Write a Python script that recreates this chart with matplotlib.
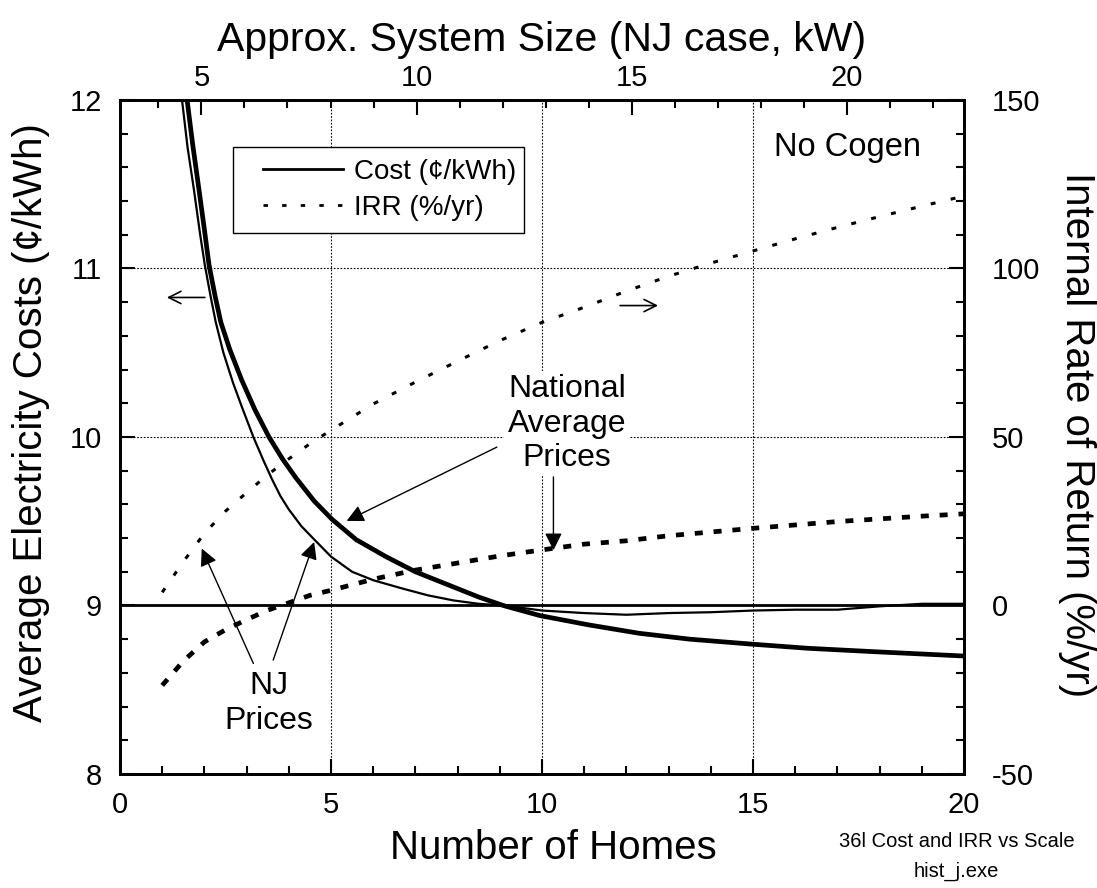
import matplotlib
matplotlib.use('Agg')
import matplotlib.pyplot as plt
from matplotlib.lines import Line2D
from matplotlib.patches import Rectangle
from matplotlib.ticker import MultipleLocator

plt.rcParams['font.family'] = ['Liberation Sans', 'DejaVu Sans']
plt.rcParams['axes.unicode_minus'] = False

# levelized cost of electricity (cents/kWh) vs number of homes served
homes_nj_cost = [1.46, 1.6, 1.75, 1.9, 2.01, 2.15, 2.27, 2.45, 2.68, 2.9, 3.16, 3.4, 3.6, 3.8,
                 4.0, 4.3, 4.57, 5.0, 5.5, 6.0, 6.7, 7.3, 7.9, 8.5, 9.1, 10, 11, 12, 13, 14,
                 15, 16, 17, 18, 19, 20]
cost_nj = [12.02, 11.72, 11.47, 11.2, 11.02, 10.83, 10.68, 10.50, 10.32, 10.17, 10.0, 9.86, 9.75,
           9.65, 9.57, 9.47, 9.40, 9.29, 9.20, 9.15, 9.10, 9.06, 9.03, 9.01, 9.0, 8.97, 8.955,
           8.945, 8.955, 8.96, 8.97, 8.975, 8.975, 8.995, 9.01, 9.01]

homes_nat_cost = [1.58, 1.72, 1.87, 2.0, 2.11, 2.25, 2.39, 2.6, 2.88, 3.2, 3.53, 3.85, 4.16,
                  4.6, 5.03, 5.6, 6.3, 7.0, 7.9, 8.5, 9.08, 9.95, 11.1, 12.3, 13.5, 15.0,
                  16.3, 17.85, 20]
cost_nat = [12.02, 11.74, 11.47, 11.23, 11.02, 10.84, 10.68, 10.52, 10.34, 10.16, 10.0, 9.87,
            9.76, 9.62, 9.51, 9.39, 9.29, 9.20, 9.11, 9.05, 9.0, 8.94, 8.885, 8.835, 8.80,
            8.77, 8.746, 8.726, 8.70]

# internal rate of return (%/yr)
homes_irr = [1, 1.5, 2, 2.5, 3, 3.5, 4, 4.5, 5, 6, 7, 8, 9, 10, 11, 12, 13, 14, 15, 16, 17, 18, 19, 20]
irr_nj = [3.9, 13.0, 21.4, 28.0, 33.5, 38.8, 43.5, 48.0, 52.0, 59.8, 66.3, 72.5, 78.6, 84.0,
          88.5, 93.3, 97.7, 101.6, 105.2, 108.8, 112.2, 115.4, 118.5, 121.5]
irr_nat = [-23.7, -16.5, -10.8, -7.2, -4.2, -1.4, 0.8, 3.0, 4.5, 7.8, 10.5, 12.6, 14.7, 16.5,
           18.2, 19.2, 20.7, 21.8, 22.9, 23.9, 24.9, 25.7, 26.5, 27.2]

# approximate system size (NJ case): homes -> kW, from two reference points
size_homes = [1.93, 17.22]
size_kw = [5, 20]
kw_per_home = (size_kw[1] - size_kw[0]) / (size_homes[1] - size_homes[0])


def homes_to_kw(h):
    return size_kw[0] + (h - size_homes[0]) * kw_per_home


def kw_to_homes(k):
    return size_homes[0] + (k - size_kw[0]) / kw_per_home


thin_dots = (0, (1.6, 5.1))
thick_dots = (0, (1.7, 2.3))

fig = plt.figure(figsize=(10.97, 8.88), dpi=100)
ax = fig.add_axes([0.1094, 0.1284, 0.7694, 0.759])
ax2 = ax.twinx()
ax.set_zorder(ax2.get_zorder() + 1)
ax.patch.set_visible(False)

ax.set_xlim(0, 20)
ax.set_ylim(8, 12)
ax2.set_ylim(-50, 150)

# grid and break-even line
ax.grid(True, which='major', color='black', ls=(0, (1.5, 1.5)), lw=0.8)
ax.axhline(9, color='black', lw=2.0, zorder=2)

ax.plot(homes_nj_cost, cost_nj, color='black', lw=1.6, zorder=3)
ax.plot(homes_nat_cost, cost_nat, color='black', lw=3.4, zorder=3)
ax2.plot(homes_irr, irr_nj, color='black', lw=2.2, ls=thin_dots, dash_capstyle='butt')
ax2.plot(homes_irr, irr_nat, color='black', lw=3.4, ls=thick_dots, dash_capstyle='butt')

# ticks
tick_fs = 21
ax.xaxis.set_major_locator(MultipleLocator(5))
ax.xaxis.set_minor_locator(MultipleLocator(1))
ax.yaxis.set_major_locator(MultipleLocator(1))
ax.yaxis.set_minor_locator(MultipleLocator(0.2))
ax2.yaxis.set_major_locator(MultipleLocator(50))
ax2.yaxis.set_minor_locator(MultipleLocator(10))
ax.tick_params(axis='x', which='both', direction='in', top=False, labelsize=tick_fs, pad=12)
ax.tick_params(axis='y', which='both', direction='in', right=False, labelsize=tick_fs, pad=13)
ax2.tick_params(axis='y', which='both', direction='in', labelsize=tick_fs, pad=20)
for a in (ax, ax2):
    a.tick_params(which='major', length=11, width=1.5)
    a.tick_params(which='minor', length=6, width=1.5)
    for sp in a.spines.values():
        sp.set_linewidth(2)

secax = ax.secondary_xaxis('top', functions=(homes_to_kw, kw_to_homes))
secax.xaxis.set_major_locator(MultipleLocator(5))
secax.xaxis.set_minor_locator(MultipleLocator(1))
secax.tick_params(which='both', direction='in', labelsize=tick_fs, pad=6, width=1.5)
secax.tick_params(which='major', length=11)
secax.tick_params(which='minor', length=6)
secax.spines['top'].set_linewidth(2)
secax.set_xlabel('Approx. System Size (NJ case, kW)', fontsize=29.5, labelpad=9)

ax.set_xlabel('Number of Homes', fontsize=29)
ax.xaxis.set_label_coords(0.514, -0.082)
ax.set_ylabel('Average Electricity Costs (\u00a2/kWh)', fontsize=29)
ax.yaxis.set_label_coords(-0.0825, 0.522)
ax2.set_ylabel('Internal Rate of Return (%/yr)', fontsize=29, rotation=270, va='bottom')
ax2.yaxis.set_label_coords(1.111, 0.504)

# legend: white box with the two line styles
ax.add_patch(Rectangle((0.1339, 0.8027), 0.3448, 0.1276, transform=ax.transAxes,
                       fc='white', ec='black', lw=1, zorder=4))
handles = [Line2D([], [], color='black', lw=2),
           Line2D([], [], color='black', lw=2, ls=thin_dots, dash_capstyle='butt')]
leg = ax.legend(handles, ['Cost (\u00a2/kWh)', 'IRR (%/yr)'], loc='center left',
                bbox_to_anchor=(0.169, 0.8665), borderaxespad=0, borderpad=0, fontsize=20,
                frameon=False, handlelength=2.9, labelspacing=0.35, handletextpad=0.4)
leg.set_zorder(5)

ax.text(15.5, 11.67, 'No Cogen', fontsize=23.5, va='baseline')

# annotations
arrow = dict(arrowstyle='-|>', color='black', lw=1, mutation_scale=26, shrinkA=0, shrinkB=0)
ax.text(10.59, 10.08, 'National\nAverage\nPrices', fontsize=23, ha='center', va='center',
        linespacing=1.2, zorder=5,
        bbox=dict(boxstyle='square,pad=0.1', fc='white', ec='none'))
ax.annotate('', xy=(5.37, 9.502), xytext=(8.93, 9.94), arrowprops=arrow)
ax.annotate('', xy=(10.27, 9.328), xytext=(10.27, 9.763), arrowprops=arrow)

ax.text(3.53, 8.42, 'NJ\nPrices', fontsize=23, ha='center', va='center', linespacing=1.2)
ax.annotate('', xy=(1.936, 9.338), xytext=(3.16, 8.656), arrowprops=arrow)
ax.annotate('', xy=(4.60, 9.377), xytext=(3.63, 8.676), arrowprops=arrow)

side = dict(arrowstyle='->', color='black', lw=1.2, mutation_scale=22, shrinkA=0, shrinkB=0)
ax.annotate('', xy=(1.11, 10.828), xytext=(2.01, 10.828), arrowprops=side)
ax.annotate('', xy=(12.75, 10.78), xytext=(11.85, 10.78), arrowprops=side)

fig.text(0.872, 0.046, '36l Cost and IRR vs Scale', fontsize=14.5, ha='center')
fig.text(0.872, 0.013, 'hist_j.exe', fontsize=14.5, ha='center')

fig.savefig('out.png', dpi=100)
